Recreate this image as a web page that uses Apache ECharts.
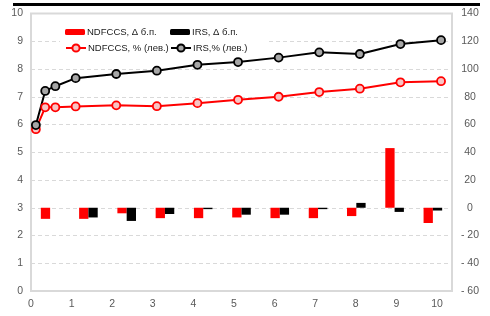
<!DOCTYPE html>
<html>
<head>
<meta charset="utf-8">
<script src="https://cdn.jsdelivr.net/npm/echarts@6/dist/echarts.min.js"></script>
<style>
  html, body { margin: 0; padding: 0; background: #fff; }
  #chart { width: 490px; height: 316px; }
</style>
</head>
<body>
<div id="chart"></div>
<script>
// сроки (лет) для кривых
const termYears = [0.02, 0.25, 0.5, 1, 2, 3, 4, 5, 6, 7, 8, 9, 10];
const ndfccsRate = [5.83, 6.62, 6.62, 6.65, 6.69, 6.66, 6.77, 6.89, 7.0, 7.17, 7.29, 7.52, 7.56];
const irsRate = [5.98, 7.21, 7.38, 7.67, 7.82, 7.94, 8.15, 8.25, 8.41, 8.6, 8.54, 8.9, 9.04];

// изменения, б.п. (правая ось)
const barCategories = ["0", "1", "2", "3", "4", "5", "6", "7", "8", "9", "10"];
const ndfccsDelta = [-8, -8, -4, -7.5, -7.5, -7, -7.5, -7.5, -6, 43, -11];
const irsDelta = [0, -7, -9.5, -4.5, -1, -5, -5, -1, 3.5, -3, -2];

const leftTicks = { min: 0, max: 10, step: 1 };
const rightTicks = { min: -60, max: 140, step: 20 };

const FONT = "'Liberation Sans', Arial, sans-serif";

const myChart = echarts.init(document.getElementById("chart"));

//поля: одна позиция легенды на элемент
function legendAt(name, left, top, itemHeight) {
  return {
    data: [name],
    left: left,
    top: top,
    itemWidth: 20,
    itemHeight: itemHeight,
    itemGap: 0,
    padding: 0,
    selectedMode: false,
    textStyle: { fontFamily: FONT, fontSize: 9.5, color: "#1a1a1a", padding: [0, 0, 0, -3] },
  };
}

const option = {
  animation: false,
  grid: {
    left: 31,
    right: 38,
    top: 13.5,
    bottom: 25,
    show: true,
    borderColor: "#d9d9d9",
    borderWidth: 2,
    backgroundColor: "transparent",
  },
  graphic: [
    // чёрная линия сверху
    { type: "rect", shape: { x: 13, y: 3, width: 467, height: 3 }, style: { fill: "#000" }, z: 10 },
    // белый фон легенды
    { type: "rect", shape: { x: 60, y: 20, width: 208, height: 36 }, style: { fill: "#fff" }, z: 1 },
  ],
  legend: [
    legendAt("NDFCCS, Δ б.п.", 65, 27, 6),
    legendAt("IRS, Δ б.п.", 170, 27, 6),
    legendAt("NDFCCS, % (лев.)", 65, 43, 9),
    legendAt("IRS,% (лев.)", 170, 43, 9),
  ],
  xAxis: [
    {
      // категории для столбцов
      type: "category",
      data: barCategories,
      show: false,
      boundaryGap: true,
    },
    {
      // ось значений для линий
      type: "value",
      min: -0.1,
      max: 10.27,
      show: false,
    },
    {
      // подписи 0..10
      type: "value",
      min: 0,
      max: 10.37,
      interval: 1,
      position: "bottom",
      axisLine: { show: false },
      axisTick: { show: false },
      splitLine: { show: false },
      axisLabel: {
        margin: 8,
        fontFamily: FONT,
        fontSize: 10.5,
        color: "#595959",
        formatter: (v) => (Number.isInteger(v) ? String(v) : ""),
      },
    },
  ],
  yAxis: [
    {
      type: "value",
      min: leftTicks.min,
      max: leftTicks.max,
      interval: leftTicks.step,
      axisLine: { show: false },
      axisTick: { show: false },
      axisLabel: { margin: 8, fontFamily: FONT, fontSize: 10.5, color: "#595959" },
      splitLine: {
        show: true,
        lineStyle: { color: "#d9d9d9", width: 1, type: [4, 3] },
      },
    },
    {
      type: "value",
      min: rightTicks.min,
      max: rightTicks.max,
      interval: rightTicks.step,
      position: "right",
      axisLine: { show: false },
      axisTick: { show: false },
      splitLine: { show: false },
      axisLabel: {
        margin: 18,
        align: "center",
        fontFamily: FONT,
        fontSize: 10.5,
        color: "#595959",
        formatter: (v) => (v < 0 ? "- " + Math.abs(v) : String(v)),
      },
    },
  ],
  series: [
    {
      name: "NDFCCS, Δ б.п.",
      type: "bar",
      xAxisIndex: 0,
      yAxisIndex: 1,
      data: ndfccsDelta,
      barWidth: 9.3,
      barGap: "0%",
      itemStyle: { color: "#ff0000" },
      z: 3,
    },
    {
      name: "IRS, Δ б.п.",
      type: "bar",
      xAxisIndex: 0,
      yAxisIndex: 1,
      data: irsDelta,
      barWidth: 9.3,
      barGap: "0%",
      itemStyle: { color: "#000000" },
      z: 3,
    },
    {
      name: "NDFCCS, % (лев.)",
      type: "line",
      xAxisIndex: 1,
      yAxisIndex: 0,
      data: termYears.map((t, i) => [t, ndfccsRate[i]]),
      symbol: "circle",
      symbolSize: 8,
      lineStyle: { color: "#ff0000", width: 2 },
      itemStyle: { color: "#f8c4c4", borderColor: "#ff0000", borderWidth: 1.8 },
      z: 4,
    },
    {
      name: "IRS,% (лев.)",
      type: "line",
      xAxisIndex: 1,
      yAxisIndex: 0,
      data: termYears.map((t, i) => [t, irsRate[i]]),
      symbol: "circle",
      symbolSize: 8,
      lineStyle: { color: "#000000", width: 2 },
      itemStyle: { color: "#a6a6a6", borderColor: "#000000", borderWidth: 1.8 },
      z: 4,
    },
  ],
};

myChart.setOption(option);
</script>
</body>
</html>
